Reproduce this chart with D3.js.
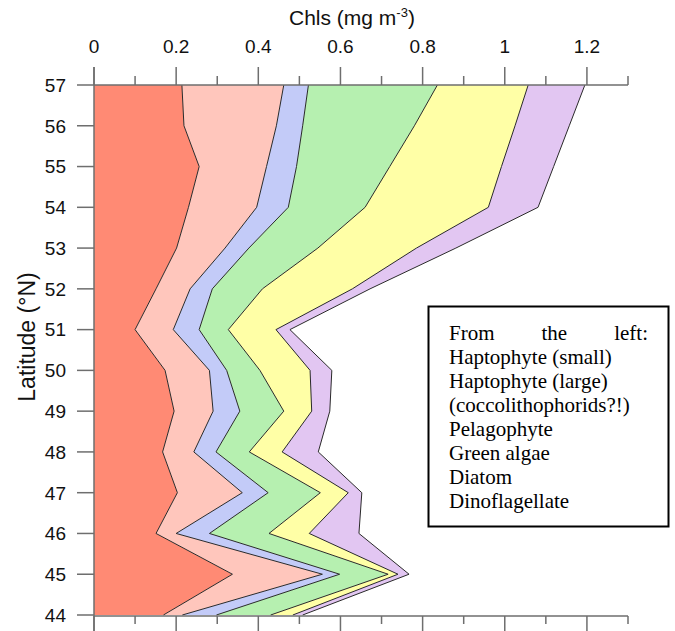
<!DOCTYPE html>
<html>
<head>
<meta charset="utf-8">
<script src="https://cdnjs.cloudflare.com/ajax/libs/d3/7.8.5/d3.min.js"></script>
<style>
  html, body { margin: 0; padding: 0; background: #fff; }
  svg { display: block; }
</style>
</head>
<body>
<svg id="chart" width="675" height="631"></svg>
<script>
// Sampling latitudes (°N), north to south
const latitudes = [57, 56, 55, 54, 53, 52, 51, 50, 49, 48, 47, 46, 45, 44];

// Chlorophyll a per phytoplankton group (mg m-3), same order as latitudes
const haptoSmall = [0.214, 0.219, 0.256, 0.230, 0.201, 0.151, 0.100, 0.173, 0.195, 0.167, 0.203, 0.151, 0.337, 0.169];
const haptoLarge = [0.248, 0.225, 0.164, 0.166, 0.118, 0.083, 0.093, 0.108, 0.095, 0.076, 0.158, 0.049, 0.219, 0.046];
const pelago     = [0.060, 0.064, 0.073, 0.077, 0.058, 0.054, 0.063, 0.042, 0.065, 0.054, 0.063, 0.081, 0.042, 0.083];
const greenAlgae = [0.314, 0.272, 0.227, 0.187, 0.168, 0.122, 0.071, 0.081, 0.107, 0.081, 0.127, 0.145, 0.118, 0.132];
const diatom     = [0.221, 0.245, 0.272, 0.300, 0.240, 0.219, 0.116, 0.122, 0.068, 0.080, 0.068, 0.098, 0.024, 0.054];
const dinoflag   = [0.138, 0.132, 0.127, 0.121, 0.096, 0.043, 0.034, 0.053, 0.044, 0.088, 0.033, 0.121, 0.027, 0.024];

const groupNames = ["haptoSmall", "haptoLarge", "pelago", "greenAlgae", "diatom", "dinoflag"];
const groupValues = [haptoSmall, haptoLarge, pelago, greenAlgae, diatom, dinoflag];

// Axis ticks
const xTickValues = [0, 0.1, 0.2, 0.3, 0.4, 0.5, 0.6, 0.7, 0.8, 0.9, 1.0, 1.1, 1.2, 1.3];
const xTickLabels = ["0", "", "0.2", "", "0.4", "", "0.6", "", "0.8", "", "1", "", "1.2", ""];
const yTickValues = [44, 45, 46, 47, 48, 49, 50, 51, 52, 53, 54, 55, 56, 57];

const legendLines = [
  "Haptophyte (small)",
  "Haptophyte (large)",
  "(coccolithophorids?!)",
  "Pelagophyte",
  "Green algae",
  "Diatom",
  "Dinoflagellate"
];

// Band colours (pale stipple tones)
const bandColors = ["#FF8A74", "#FFC6BC", "#C3CBF8", "#B6F0B0", "#FFFFA6", "#E2C6F2"];

const svg = d3.select("#chart");

const x = d3.scaleLinear().domain([0, 1.3]).range([94, 628]);
const y = d3.scaleLinear().domain([44, 57]).range([615, 85]);

// Build table and stack horizontally
const table = latitudes.map((lat, i) => {
  const row = { lat };
  groupNames.forEach((g, k) => { row[g] = groupValues[k][i]; });
  return row;
});
const stacked = d3.stack().keys(groupNames)(table);

const area = d3.area()
  .y(d => y(d.data.lat))
  .x0(d => x(d[0]))
  .x1(d => x(d[1]))
  .curve(d3.curveLinear);

const edge = d3.line()
  .y(d => y(d.data.lat))
  .x(d => x(d[1]))
  .curve(d3.curveLinear);

const layers = svg.append("g");
layers.selectAll("path.band")
  .data(stacked)
  .join("path")
  .attr("class", "band")
  .attr("d", area)
  .attr("fill", (d, i) => bandColors[i])
  .attr("stroke", "none");

layers.selectAll("path.edge")
  .data(stacked)
  .join("path")
  .attr("class", "edge")
  .attr("d", edge)
  .attr("fill", "none")
  .attr("stroke", "#2a2a2a")
  .attr("stroke-width", 1)
  .attr("stroke-linejoin", "miter");

// Axes
const axisColor = "#6e6e6e";
const axes = svg.append("g").attr("stroke", axisColor).attr("stroke-width", 1.5).attr("fill", "none");

axes.append("line").attr("x1", x(0)).attr("x2", x(1.3)).attr("y1", y(57)).attr("y2", y(57));
axes.append("line").attr("x1", x(0)).attr("x2", x(1.3)).attr("y1", y(44) + 1).attr("y2", y(44) + 1);
axes.append("line").attr("x1", x(0)).attr("x2", x(0)).attr("y1", y(57) - 18).attr("y2", y(44) + 16);

xTickValues.forEach((v, i) => {
  const major = xTickLabels[i] !== "";
  const len = major ? 18 : 9;
  axes.append("line")
    .attr("x1", x(v)).attr("x2", x(v))
    .attr("y1", y(57) - len).attr("y2", y(57));
  axes.append("line")
    .attr("x1", x(v)).attr("x2", x(v))
    .attr("y1", y(44) + 1).attr("y2", y(44) + 1 + (major ? 16 : 8));
});

yTickValues.forEach(v => {
  axes.append("line")
    .attr("x1", x(0) - 17).attr("x2", x(0))
    .attr("y1", y(v)).attr("y2", y(v));
});

// Tick labels
const sans = "'Liberation Sans', Arial, sans-serif";
svg.append("g")
  .selectAll("text")
  .data(xTickValues.map((v, i) => ({ v, t: xTickLabels[i] })).filter(d => d.t !== ""))
  .join("text")
  .attr("x", d => x(d.v))
  .attr("y", 53)
  .attr("text-anchor", "middle")
  .attr("font-family", sans)
  .attr("font-size", 19)
  .attr("fill", "#111")
  .text(d => d.t);

svg.append("g")
  .selectAll("text")
  .data(yTickValues)
  .join("text")
  .attr("x", 66)
  .attr("y", d => y(d))
  .attr("dy", "0.36em")
  .attr("text-anchor", "end")
  .attr("font-family", sans)
  .attr("font-size", 19)
  .attr("fill", "#111")
  .text(d => d);

// Axis titles
const title = svg.append("text")
  .attr("x", 289)
  .attr("y", 25)
  .attr("text-anchor", "start")
  .attr("font-family", sans)
  .attr("font-size", 21)
  .attr("fill", "#111");
title.append("tspan").text("Chls (mg m");
title.append("tspan").attr("font-size", 13).attr("dy", -8).text("-3");
title.append("tspan").attr("dy", 8).text(")");

svg.append("text")
  .attr("transform", "translate(35,337) rotate(-90)")
  .attr("text-anchor", "middle")
  .attr("font-family", sans)
  .attr("font-size", 23)
  .attr("fill", "#111")
  .text("Latitude (°N)");

// Legend box
const serif = "'Liberation Serif', 'Times New Roman', serif";
const lg = svg.append("g");
lg.append("rect")
  .attr("x", 428.5).attr("y", 306.5)
  .attr("width", 240).attr("height", 220)
  .attr("fill", "#fff")
  .attr("stroke", "#000")
  .attr("stroke-width", 2);

const textLeft = 449, textRight = 648, firstBase = 339.5, lineStep = 24.1;
const fontSize = 21;

// Justified first line
const head = ["From", "the", "left:"];
const headNodes = head.map(w => lg.append("text")
  .attr("y", firstBase)
  .attr("font-family", serif)
  .attr("font-size", fontSize)
  .attr("fill", "#000")
  .text(w));
const widths = headNodes.map(n => n.node().getComputedTextLength());
const gap = (textRight - textLeft - d3.sum(widths)) / (head.length - 1);
let cx = textLeft;
headNodes.forEach((n, i) => { n.attr("x", cx); cx += widths[i] + gap; });

legendLines.forEach((t, i) => {
  lg.append("text")
    .attr("x", textLeft)
    .attr("y", firstBase + lineStep * (i + 1))
    .attr("font-family", serif)
    .attr("font-size", fontSize)
    .attr("fill", "#000")
    .text(t);
});
</script>
</body>
</html>
